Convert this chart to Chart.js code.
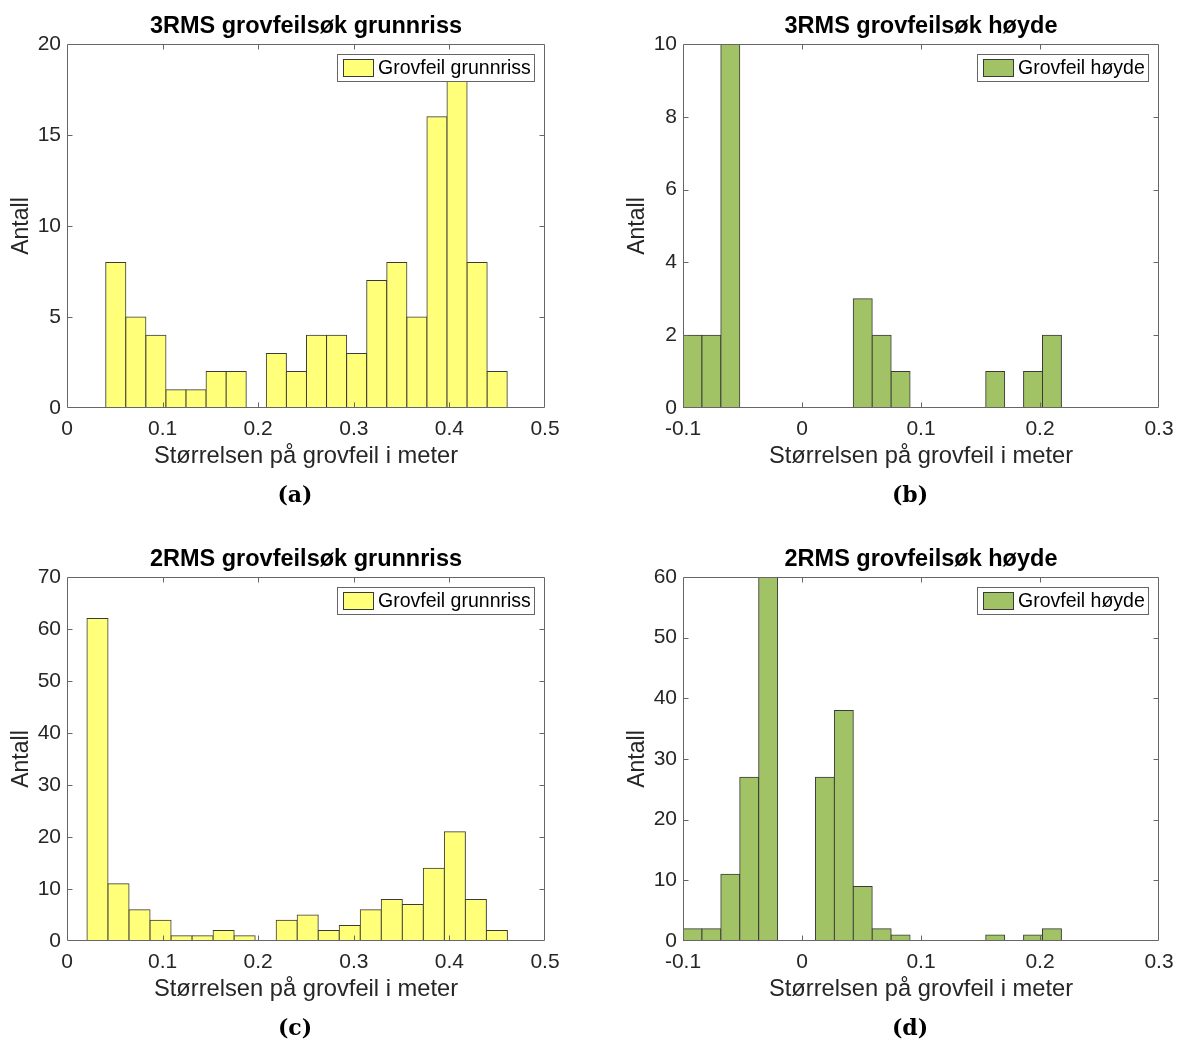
<!DOCTYPE html>
<html><head><meta charset="utf-8">
<script src="https://cdn.jsdelivr.net/npm/chart.js@4.4.0/dist/chart.umd.min.js"></script>
<style>
html,body{margin:0;padding:0;background:#fff;}
#wrap{position:relative;width:1177px;height:1041px;overflow:hidden;background:#fff;}
canvas{position:absolute;}
.ttl{position:absolute;font:bold 23.5px "Liberation Sans",Arial,sans-serif;color:#000;text-align:center;white-space:nowrap;line-height:28px;height:28px;}
.cap{position:absolute;font:bold 22px "DejaVu Serif",serif;color:#000;text-align:center;line-height:30px;height:30px;}
</style></head><body><div id="wrap"></div>
<script>
// ---- data ----
const binCentersA = [0.051,0.072,0.093,0.114,0.135,0.156,0.177,0.198,0.219,0.240,0.261,0.282,0.303,0.324,0.345,0.366,0.387,0.408,0.429,0.450];
const countsA     = [8,5,4,1,1,2,2,0,3,2,4,4,3,7,8,5,16,18,8,2];

const binCentersBD = [-0.09205,-0.07615,-0.06025,-0.04435,-0.02845,-0.01255,0.00335,0.01925,0.03515,0.05105,0.06695,0.08285,0.09875,0.11465,0.13055,0.14645,0.16235,0.17825,0.19415,0.21005];
const countsB      = [2,2,10,0,0,0,0,0,0,3,2,1,0,0,0,0,1,0,1,2];

const binCentersC = [0.031895,0.053885,0.075875,0.097865,0.119855,0.141845,0.163835,0.185825,0.207815,0.229805,0.251795,0.273785,0.295775,0.317765,0.339755,0.361745,0.383735,0.405725,0.427715,0.449705];
const countsC     = [62,11,6,4,1,1,2,1,0,4,5,2,3,6,8,7,14,21,8,2];

const countsD      = [2,2,11,27,60,0,0,27,38,9,2,1,0,0,0,0,1,0,1,2];

const xTicksGrunnriss = [0,0.1,0.2,0.3,0.4,0.5];
const xTicksHoyde     = [-0.1,0,0.1,0.2,0.3];
const yTicksA = [0,5,10,15,20];
const yTicksB = [0,2,4,6,8,10];
const yTicksC = [0,10,20,30,40,50,60,70];
const yTicksD = [0,10,20,30,40,50,60];

const titles   = ['3RMS grovfeilsøk grunnriss','3RMS grovfeilsøk høyde','2RMS grovfeilsøk grunnriss','2RMS grovfeilsøk høyde'];
const captions = ['(a)','(b)','(c)','(d)'];
const seriesNames = ['Grovfeil grunnriss','Grovfeil høyde','Grovfeil grunnriss','Grovfeil høyde'];
const xLabel = 'Størrelsen på grovfeil i meter';
const yLabel = 'Antall';

// ---- styling ----
const YELLOW = '#FFFF7A', GREEN = '#A2C365', EDGE = '#3a3a3a';
const FRAME = '#666666', TXT = '#262626';
const SANS = '"Liberation Sans", Arial, sans-serif';

const panels = [
  {centers: binCentersA,  counts: countsA, xt: xTicksGrunnriss, yt: yTicksA, color: YELLOW, col: 0, row: 0},
  {centers: binCentersBD, counts: countsB, xt: xTicksHoyde,     yt: yTicksB, color: GREEN,  col: 1, row: 0},
  {centers: binCentersC,  counts: countsC, xt: xTicksGrunnriss, yt: yTicksC, color: YELLOW, col: 0, row: 1},
  {centers: binCentersBD, counts: countsD, xt: xTicksHoyde,     yt: yTicksD, color: GREEN,  col: 1, row: 1},
];

const colX = [0, 616], colW = [580, 580], rowY = [0, 533];
const plotRight = [545, 1159];
const CH = 480, PLOT_TOP = 44, PLOT_LEFT = 67, PLOT_BOTTOM = 408;
const rightPad = [colW[0] - (plotRight[0] - colX[0]), colW[1] - (plotRight[1] - colX[1])];

const framePlugin = {
  id: 'frame',
  afterDatasetsDraw(chart) {
    const {ctx, chartArea: a, scales: {x, y}} = chart;
    ctx.save();
    ctx.strokeStyle = FRAME; ctx.lineWidth = 1;
    const L = Math.round(a.left) + 0.5, R = Math.round(a.right) - 0.5;
    const T = Math.round(a.top) + 0.5, B = Math.round(a.bottom) - 0.5;
    ctx.beginPath();
    ctx.rect(L, T, R - L, B - T);
    const tl = 5;
    x.ticks.forEach(t => {
      const p = Math.round(x.getPixelForValue(t.value)) + 0.5;
      if (p <= L + 1 || p >= R - 1) return;
      ctx.moveTo(p, B); ctx.lineTo(p, B - tl);
      ctx.moveTo(p, T); ctx.lineTo(p, T + tl);
    });
    y.ticks.forEach(t => {
      const p = Math.round(y.getPixelForValue(t.value)) + 0.5;
      if (p <= T + 1 || p >= B - 1) return;
      ctx.moveTo(L, p); ctx.lineTo(L + tl, p);
      ctx.moveTo(R, p); ctx.lineTo(R - tl, p);
    });
    ctx.stroke();
    ctx.restore();
  },
  afterDraw(chart) {
    const {ctx, chartArea: a} = chart;
    const ds = chart.data.datasets[0];
    ctx.save();
    ctx.font = '19.5px ' + SANS;
    const tw = ctx.measureText(ds.label).width;
    const w = Math.round(6 + 31 + 4 + tw + 4), h = 28;
    const right = Math.round(a.right) - 10;
    const left = right - w, top = Math.round(a.top) + 10;
    ctx.fillStyle = '#fff';
    ctx.fillRect(left, top, w, h);
    ctx.strokeStyle = FRAME; ctx.lineWidth = 1;
    ctx.strokeRect(left + 0.5, top + 0.5, w - 1, h - 1);
    ctx.fillStyle = ds.backgroundColor;
    ctx.fillRect(left + 6, top + 5, 31, 18);
    ctx.strokeStyle = EDGE;
    ctx.strokeRect(left + 6.5, top + 5.5, 30, 17);
    ctx.fillStyle = '#000';
    ctx.textBaseline = 'middle';
    ctx.textAlign = 'left';
    ctx.fillText(ds.label, left + 6 + 31 + 4, top + h / 2 + 1);
    ctx.restore();
  }
};

const wrap = document.getElementById('wrap');
const fmt = v => { const r = Math.round(v * 1000) / 1000; return (Object.is(r, -0) ? 0 : r).toString(); };

panels.forEach((p, i) => {
  const cv = document.createElement('canvas');
  cv.width = colW[p.col]; cv.height = CH;
  cv.style.left = colX[p.col] + 'px'; cv.style.top = rowY[p.row] + 'px';
  cv.style.width = colW[p.col] + 'px'; cv.style.height = CH + 'px';
  wrap.appendChild(cv);

  const t = document.createElement('div');
  t.className = 'ttl'; t.textContent = titles[i];
  t.style.left = (colX[p.col] + PLOT_LEFT) + 'px';
  t.style.width = (plotRight[p.col] - colX[p.col] - PLOT_LEFT) + 'px';
  t.style.top = (rowY[p.row] + 11) + 'px';
  wrap.appendChild(t);

  const c = document.createElement('div');
  c.className = 'cap'; c.textContent = captions[i];
  c.style.left = (p.col === 0 ? 0 : 616) + 'px'; c.style.width = (p.col === 0 ? 590 : 588) + 'px';
  c.style.top = (rowY[p.row] + 479) + 'px';
  wrap.appendChild(c);

  new Chart(cv, {
    type: 'bar',
    data: {
      datasets: [{
        label: seriesNames[i],
        data: p.centers.map((cx, k) => ({x: cx, y: p.counts[k]})),
        backgroundColor: p.color,
        borderColor: EDGE,
        borderWidth: 1,
        borderSkipped: false,
        inflateAmount: 0.5,
        barPercentage: 1,
        categoryPercentage: 1
      }]
    },
    plugins: [framePlugin],
    options: {
      responsive: false,
      devicePixelRatio: 1,
      animation: false,
      events: [],
      layout: {padding: {top: PLOT_TOP, left: 0, right: rightPad[p.col], bottom: 0}},
      plugins: {legend: {display: false}, tooltip: {enabled: false}, title: {display: false}},
      scales: {
        x: {
          type: 'linear', offset: false,
          min: p.xt[0], max: p.xt[p.xt.length - 1],
          afterBuildTicks: s => { s.ticks = p.xt.map(v => ({value: v})); },
          afterFit: s => { s.height = CH - PLOT_BOTTOM; },
          grid: {display: false, drawTicks: false},
          border: {display: false},
          ticks: {color: TXT, font: {family: SANS, size: 21}, padding: 9, maxRotation: 0, autoSkip: false, callback: v => fmt(v)},
          title: {display: true, text: xLabel, color: TXT, font: {family: SANS, size: 23.7}, padding: {top: 0, bottom: 9}}
        },
        y: {
          type: 'linear',
          min: p.yt[0], max: p.yt[p.yt.length - 1],
          afterBuildTicks: s => { s.ticks = p.yt.map(v => ({value: v})); },
          afterFit: s => { s.width = PLOT_LEFT; },
          grid: {display: false, drawTicks: false},
          border: {display: false},
          ticks: {color: TXT, font: {family: SANS, size: 21}, padding: 6, autoSkip: false, callback: v => fmt(v)},
          title: {display: true, text: yLabel, color: TXT, font: {family: SANS, size: 23}, padding: {top: 8, bottom: 0}}
        }
      }
    }
  });
});
</script>
</body></html>
